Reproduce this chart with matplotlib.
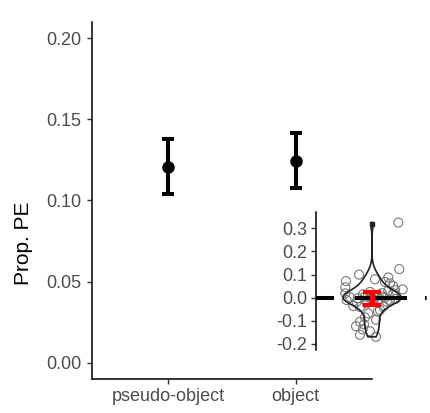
import numpy as np
import matplotlib
matplotlib.use("Agg")
import matplotlib.pyplot as plt

plt.rcParams['font.family'] = ['Liberation Sans', 'DejaVu Sans']
plt.rcParams['axes.unicode_minus'] = False
plt.rcParams['lines.scale_dashes'] = False

# ---- main panel data ----
conditions = ["pseudo-object", "object"]
means = [0.1209, 0.1245]
lower = [0.1043, 0.1074]
upper = [0.1380, 0.1417]
main_yticks = [0.00, 0.05, 0.10, 0.15, 0.20]
main_yticklabels = ["0.00", "0.05", "0.10", "0.15", "0.20"]

# ---- inset data (difference scores, jittered x) ----
diff_y = [0.325, 0.124, 0.100, 0.072, 0.045, 0.019, -0.010, 0.088, 0.068, 0.062,
          0.050, 0.033, 0.036, 0.030, 0.019, 0.005, 0.012, 0.025, -0.017, -0.036,
          -0.040, -0.068, -0.039, -0.017, -0.010, -0.104, -0.123, -0.137, -0.160, -0.169,
          -0.025, -0.010, -0.053, 0.005, -0.003, -0.022, 0.015, 0.020, 0.002, -0.005,
          -0.060, -0.085, 0.000, 0.000, 0.008, -0.005, -0.115, 0.080, 0.000, -0.002,
          -0.145, -0.095]
diff_x = [1.283, 1.293, 0.890, 0.760, 0.753, 0.753, 0.767, 1.183, 1.150, 1.200,
          1.233, 1.250, 1.327, 1.183, 1.233, 1.133, 1.067, 1.000, 0.867, 0.833,
          0.900, 0.983, 1.133, 1.167, 1.200, 0.900, 0.860, 0.927, 0.900, 1.060,
          0.967, 1.033, 1.100, 0.950, 1.020, 1.080, 0.930, 1.120, 0.800, 1.260,
          1.080, 0.950, 1.000, 1.050, 0.980, 1.100, 0.940, 1.050, 1.150, 0.880,
          1.000, 1.060]
diff_mean = -0.004
diff_lo = -0.030
diff_hi = 0.023
inset_yticks = [-0.2, -0.1, 0.0, 0.1, 0.2, 0.3]
inset_yticklabels = ["-0.2", "-0.1", "0.0", "0.1", "0.2", "0.3"]

W, H = 430, 413
fig = plt.figure(figsize=(W / 100, H / 100), dpi=100)
fig.patch.set_facecolor("white")

ax = fig.add_axes([92 / W, (H - 379) / H, 280 / W, 357 / H])
xpos = np.arange(1, len(conditions) + 1)
yerr = [np.array(means) - np.array(lower), np.array(upper) - np.array(means)]
ax.errorbar(xpos, means, yerr=yerr, fmt='o', color='black', ms=8,
            elinewidth=2.9, capsize=4.3, capthick=2.9, zorder=3)
ax.set_xlim(0.4, 2.6)
ax.set_ylim(-0.01, 0.21)
ax.set_xticks(xpos)
ax.set_xticklabels(conditions)
ax.set_yticks(main_yticks)
ax.set_yticklabels(main_yticklabels)
for s in ["top", "right"]:
    ax.spines[s].set_visible(False)
for s in ["left", "bottom"]:
    ax.spines[s].set_linewidth(1.1)
    ax.spines[s].set_color("black")
ax.tick_params(axis='both', labelsize=13, labelcolor="#4D4D4D", color="#333333",
               length=3.4, width=1.0)
ax.tick_params(axis='y', pad=4.3)
ax.tick_params(axis='x', pad=3.0)
ax.set_ylabel("Prop. PE", fontsize=15, color="black")
ax.yaxis.label.set_va("center")
ax.yaxis.set_label_coords(-0.246, 0.38)

# ---- inset ----
ins = fig.add_axes([316 / W, (H - 350) / H, 114 / W, 138.3 / H])
ins.set_facecolor("none")
ins.set_xlim(0.46, 1.60)
ins.set_ylim(-0.226, 0.372)
ins.scatter(diff_x, diff_y, s=42, facecolors='none', edgecolors='#7a7a7a',
            linewidths=0.8, zorder=2)

# violin from the data (gaussian KDE, trimmed to data range)
y = np.array(diff_y)
bw = 0.026
grid = np.linspace(y.min(), y.max(), 512)
dens = np.exp(-0.5 * ((grid[:, None] - y[None, :]) / bw) ** 2).sum(axis=1)
half = dens / dens.max() * 0.29
center = 1.02
ins.fill_betweenx(grid, center - half, center + half, facecolor='none',
                  edgecolor='#222222', linewidth=1.2, zorder=3)
ins.plot([center], [y.max() - 0.006], marker='s', ms=2.5, color='#222222', zorder=3)

hl = ins.axhline(0, color='black', linewidth=2.9, zorder=4)
hl.set_dashes((13, 15.1, 37.4, 13, 1.2, 60))
hl.set_dash_capstyle('butt')

ins.errorbar([1.015], [diff_mean], yerr=[[diff_mean - diff_lo], [diff_hi - diff_mean]],
             fmt='none', ecolor='#FF0000', elinewidth=3.8, capsize=6.3,
             capthick=3.0, zorder=5)

ins.set_yticks(inset_yticks)
ins.set_yticklabels(inset_yticklabels)
ins.set_xticks([])
for s in ["top", "right", "bottom"]:
    ins.spines[s].set_visible(False)
ins.spines["left"].set_linewidth(1.1)
ins.spines["left"].set_color("black")
ins.tick_params(axis='y', labelsize=13, labelcolor="#4D4D4D", color="#333333",
                length=3.4, width=1.0, pad=2.9)

fig.savefig("out.png", dpi=100, facecolor="white")
